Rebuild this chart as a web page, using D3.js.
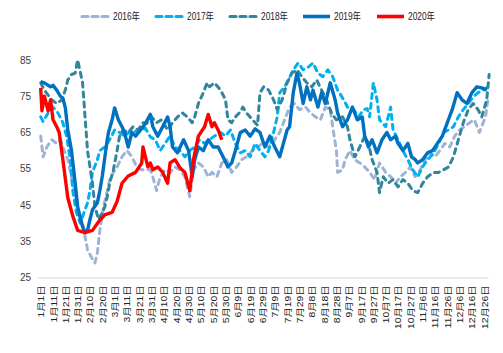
<!DOCTYPE html>
<html><head><meta charset="utf-8">
<script src="https://cdn.jsdelivr.net/npm/d3@7/dist/d3.min.js"></script>
<style>body{margin:0;background:#fff}svg{display:block}</style>
</head><body><svg id="c" width="503" height="353"></svg>
<script>
const years = ["2016年","2017年","2018年","2019年","2020年"];
const colors = ["#9fb3d6","#00b0f0","#31859c","#0070c0","#ff0000"];
const yTicks = [25,35,45,55,65,75,85];
const xTickLabels = ["1月1日","1月11日","1月21日","1月31日","2月10日","2月20日","3月1日","3月11日","3月21日","3月31日","4月10日","4月20日","4月30日","5月10日","5月20日","5月30日","6月9日","6月19日","6月29日","7月9日","7月19日","7月29日","8月8日","8月18日","8月28日","9月7日","9月17日","9月27日","10月7日","10月17日","10月27日","11月6日","11月16日","11月26日","12月6日","12月16日","12月26日"];

const days2016 = [0,2,5,9,13,16,18,22,25,28,30,34,36,38,42,44,46,48,51,54,56,59,62,66,70,74,78,82,86,89,91,94,97,101,105,109,113,117,121,124,128,132,136,139,143,147,151,155,159,163,167,172,176,180,185,190,194,198,202,206,210,215,219,223,227,231,235,237,240,241,245,247,251,255,259,263,267,271,275,280,284,288,292,296,300,304,308,312,316,320,324,328,332,336,340,344,348,352,356,361,363];
const vals2016 = [64,58.3,61,63,62,63,61,57.5,52.8,48.4,43.7,40,36.3,32.7,30,29,31.8,38,44.5,49,52,54,55.5,58.3,60,58.3,55.5,54.7,54.7,54.7,52.8,49,52.8,54.7,54,55.5,54.7,52.8,47.3,54.7,56.6,55.5,52.8,54,52.8,56.6,57.5,54,55.5,57.5,58.3,60,61,62,61,63,65,68.5,72,73,71.3,72,70.4,69.3,68.5,72,71.3,66.6,60,54,54.7,57.5,60,57.5,56.6,55.5,54,52,56.6,54,52.8,51,52.8,54,55.5,52.8,54.7,57.5,59.4,58.3,60,62,61,64,65.7,66.6,67.7,68.5,65,69.3,74];

const days2017 = [0,2,6,10,14,18,21,24,26,29,32,34,38,40,42,46,48,52,56,60,64,68,74,79,85,89,93,97,101,105,109,113,117,121,125,129,133,137,141,146,150,154,158,162,166,170,174,178,182,185,189,192,194,198,201,205,209,213,217,221,225,229,233,237,241,246,249,254,258,262,265,267,270,273,275,280,284,286,290,294,298,302,306,310,314,319,323,327,331,335,339,343,347,351,355,359,363];
const vals2017 = [69.3,68,70.4,72,70.4,67.7,64,57.5,49,42.9,40,41.8,45.6,49,54,57.5,60,61,63,65.7,65,64,65.7,65,66.2,63.8,63,60,62,64,61,60,58.3,60,61,63,62,63,64,65,64,65.7,62,59.4,60,58.3,62,60,58.3,60,65,69.3,76,77.6,79.5,82.3,84.2,82.3,83,84.2,81.4,80.4,82.3,80.4,76.7,74,72,71.3,69.3,71.3,71.6,69.3,78.7,74,68.5,66.6,72,65.7,63,60,57.5,54.7,52.8,55.5,57.5,59.4,62,65,65.7,66.6,69.3,71.3,73,74.8,76,76.7,77.6];

const days2018 = [0,3,9,13,17,20,22,25,28,30,34,36,38,42,44,47,50,52,54,56,59,62,64,67,71,75,79,83,86,90,94,98,103,107,111,115,119,123,125,128,132,135,137,141,146,150,152,155,158,162,164,167,172,176,178,181,185,189,192,196,200,204,208,212,216,220,224,228,232,236,240,245,249,251,255,259,263,266,269,273,275,278,282,286,290,294,298,302,306,310,314,319,323,327,331,335,339,343,347,351,355,358,362,364];
const vals2018 = [78.7,76.7,74,73,74,76.7,79.5,81,81.4,85,78.7,69.3,60,51,44.5,41,42.9,44.5,47.3,51,54.7,60,64,65.7,65,66.6,65.7,67.7,67.5,69.3,67.7,68.5,65.7,67.7,69.3,70.4,69.3,67.7,69.3,73,76,78.7,77.6,78.7,76.7,74,68.5,67.7,69.3,70.7,72,70.4,68.5,67,76,77.6,76.7,74,71.3,74,78.7,81.4,82.3,80.4,78.7,77.6,79.5,76.7,74,70.4,68.5,69.3,66.6,63,58.3,61,64,62,57.5,54,48.4,52.8,51,52,50,52,51,49,48.4,51,52.8,54,54,54.7,55.5,58.3,63,67.7,71.3,73,71.3,69.3,74,81];

const days2019 = [0,3,8,10,13,16,18,20,22,25,28,30,34,36,38,40,42,46,48,50,52,54,55,58,60,63,66,68,71,74,77,81,85,89,91,95,99,103,105,107,111,116,120,123,125,128,132,136,140,144,148,152,155,158,162,166,170,174,178,182,186,190,194,197,200,202,205,208,210,213,216,219,221,225,228,231,235,239,241,245,249,253,257,261,263,266,269,273,277,281,284,288,290,294,298,301,304,306,310,314,318,322,326,330,334,338,342,346,350,354,358,362];
const vals2019 = [79,78.7,77.6,78,76.7,75,74.5,71.8,65.7,60,51,44.5,39,37.4,38,41,43.7,45.6,49,53,58,63,65,68.5,71.8,68.5,66.6,65,61,65,64,65.7,67.5,70,66.6,64,66.6,69.3,66.6,61,59.4,63,60,52.8,57.5,61,60,63,61,61,58.3,55.5,56.6,60,65,65.7,64,66,65,61,64,61,58.3,62,65.7,66.6,76,81.4,78.7,73,77.6,74,76.7,72,76,73,78.7,74,70.4,66.6,68.5,72,68.5,69.3,64,61,63,59.4,63,65,63,64,62,60,62,58.3,57.5,56.6,57.5,59.4,60,62,64,67.7,71.3,76,74,73,76,77.6,77.3,76.7];

const days2020 = [0,1,3,6,8,10,13,15,18,22,26,30,36,42,47,52,58,62,66,71,77,82,83,87,89,91,95,99,103,105,109,113,117,121,124,128,133,136,139,141,144,147];
const vals2020 = [77.3,71,75,71,74,68.5,66.6,65,57.5,47,42,38,37.4,38,40.4,42.3,43,46,51,53,54,56.6,61,55.5,56.6,54.7,55.5,54,51,56.6,57.5,55.3,54,49,57.5,64,66.6,70,66.6,67.7,65.7,63];

const seriesDays = [days2016,days2017,days2018,days2019,days2020];
const seriesVals = [vals2016,vals2017,vals2018,vals2019,vals2020];
const dashed = [true,true,true,false,false];

const svg = d3.select("#c");
const x = d3.scaleLinear().domain([0,365]).range([40.7,490.4]);
const y = d3.scaleLinear().domain([25,85]).range([277.5,60]);
const font = "'Liberation Sans','Noto Sans CJK SC',sans-serif";

// y axis labels
const yAxis = d3.axisLeft(y).tickValues(yTicks).tickSize(0).tickPadding(0);
const gy = svg.append("g").attr("transform","translate(31,0)").call(yAxis);
gy.select(".domain").remove();
gy.selectAll("text").attr("font-family",font).attr("font-size","10px").attr("fill","#404040");

// x axis
const xAxis = d3.axisBottom(x).tickValues(xTickLabels.map((d,i)=>i*10)).tickSize(0).tickFormat((d,i)=>xTickLabels[i]);
const gx = svg.append("g").attr("transform","translate(0,278)").call(xAxis);
gx.select(".domain").attr("stroke","#d9d9d9").attr("stroke-width",1.2).attr("d",`M${x(-2)},0H${x(363.5)}`);
gx.selectAll("text")
  .attr("font-family",font).attr("font-size","8.5px").attr("fill","#222")
  .attr("text-anchor","end").attr("transform","rotate(-90) scale(1.22,1)")
  .attr("x",-6).attr("y",0).attr("dy","0.35em");

// lines
const line = d3.line().x(d=>x(d[0])).y(d=>y(d[1]));
seriesDays.forEach((ds,i)=>{
  const pts = ds.map((d,j)=>[d,seriesVals[i][j]]);
  const p = svg.append("path").datum(pts).attr("d",line)
    .attr("fill","none").attr("stroke",colors[i])
    .attr("stroke-width", dashed[i]?3:3.4).attr("stroke-linejoin","round");
  if (dashed[i]) p.attr("stroke-dasharray","5,5").attr("stroke-linecap","round");
});

// legend
const legX = [81,155,229,302,376];
const lg = svg.append("g");
years.forEach((name,i)=>{
  const g = lg.append("g").attr("transform",`translate(${legX[i]},16.5)`);
  const l = g.append("line").attr("x1",1).attr("x2",28).attr("y1",0).attr("y2",0)
    .attr("stroke",colors[i]).attr("stroke-width",dashed[i]?3.2:3.6);
  if (dashed[i]) l.attr("stroke-dasharray","6,4").attr("stroke-linecap","round");
  g.append("text").attr("x",32).attr("y",0).attr("dy","0.35em")
    .attr("font-family",font).attr("font-size","10px").attr("fill","#222")
    .attr("textLength",27).attr("lengthAdjust","spacingAndGlyphs").text(name);
});
</script></body></html>
